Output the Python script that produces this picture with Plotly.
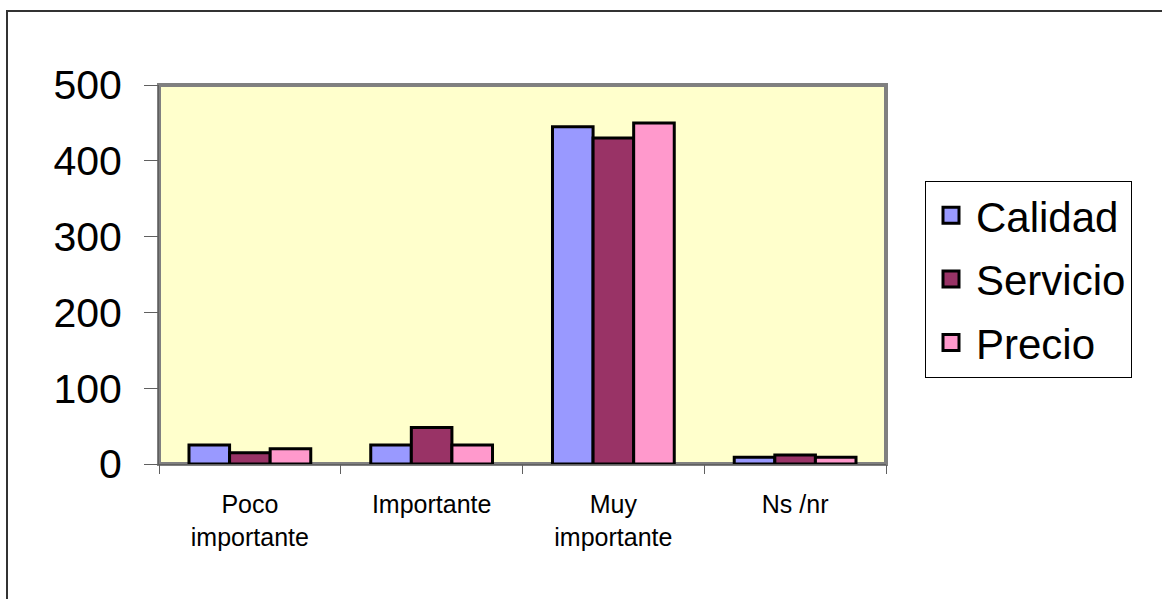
import plotly.graph_objects as go

# Categories and series values
categorias = ["Poco<br>importante", "Importante", "Muy<br>importante", "Ns /nr"]
calidad = [25, 25, 445, 9]
servicio = [15, 48, 430, 12]
precio = [20, 25, 450, 9]
series = ["Calidad", "Servicio", "Precio"]
colores = ["#9999FF", "#993366", "#FF99CC"]
y_ticks = [0, 100, 200, 300, 400, 500]

W, H = 1162, 599
ML, MR, MT, MB = 159, 276, 85, 135
pw, ph = W - ML - MR, H - MT - MB

fig = go.Figure()
for nombre, vals, col in zip(series, [calidad, servicio, precio], colores):
    fig.add_trace(go.Bar(
        x=categorias, y=vals, name=nombre,
        marker=dict(color=col, line=dict(color="black", width=3)),
        showlegend=False,
    ))
# legend swatches
for nombre, col in zip(series, colores):
    fig.add_trace(go.Scatter(
        x=[None], y=[None], mode="markers", name=nombre, legendgroup=nombre,
        marker=dict(symbol="square", size=16, color=col,
                    line=dict(color="black", width=3)),
    ))

def px_x(p):
    return (p - ML) / pw

def px_y(p):
    return (H - MB - p) / ph

shapes = [
    # chart frame
    dict(type="rect", xref="paper", yref="paper",
         x0=px_x(7), x1=px_x(1200), y0=px_y(640), y1=px_y(11),
         line=dict(color="#333333", width=2), fillcolor="rgba(0,0,0,0)", layer="below"),
    # plot area frame
    dict(type="rect", xref="paper", yref="paper", x0=0, x1=1, y0=0, y1=1,
         line=dict(color="#808080", width=4), fillcolor="rgba(0,0,0,0)", layer="below"),
]

fig.update_layout(
    width=W, height=H,
    margin=dict(l=ML, r=MR, t=MT, b=MB),
    paper_bgcolor="white",
    plot_bgcolor="#FFFFCC",
    barmode="group",
    bargap=0.33,
    bargroupgap=0,
    font=dict(family="Liberation Sans, Arial, sans-serif", color="black"),
    shapes=shapes,
    legend=dict(
        x=px_x(925), xanchor="left", y=px_y(279), yanchor="middle",
        bordercolor="black", borderwidth=1, bgcolor="white",
        font=dict(size=42, family="Liberation Sans, Arial, sans-serif"),
        tracegroupgap=6, itemwidth=40,
    ),
    xaxis=dict(
        tickson="boundaries", ticks="outside", ticklen=9, tickcolor="#606060",
        showline=True, linecolor="#606060", linewidth=1,
        tickfont=dict(size=25, family="Liberation Sans Narrow, Liberation Sans, Arial"),
        ticklabelstandoff=18,
    ),
    yaxis=dict(
        range=[0, 500], tickvals=y_ticks, ticks="outside", ticklen=14,
        tickcolor="#606060", showline=True, linecolor="#606060", linewidth=1,
        showgrid=False, zeroline=False,
        tickfont=dict(size=41), ticklabelstandoff=14,
    ),
)

fig.write_html("out.html")
